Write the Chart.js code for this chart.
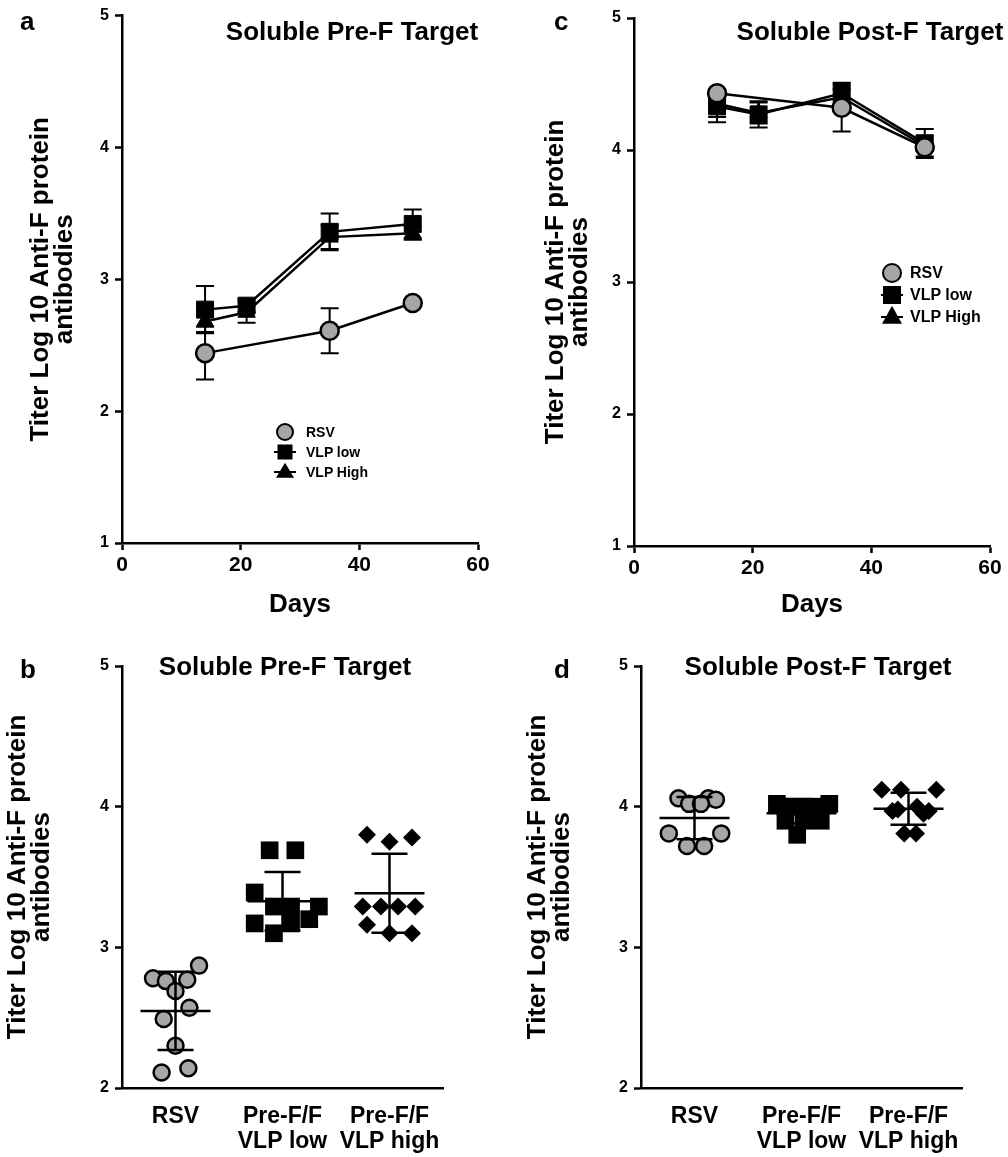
<!DOCTYPE html>
<html><head><meta charset="utf-8">
<script src="https://cdn.jsdelivr.net/npm/chart.js@4/dist/chart.umd.min.js"></script>
<style>
html,body{margin:0;padding:0;background:#fff;}
body{width:1008px;height:1157px;position:relative;overflow:hidden;font-family:"Liberation Sans",Arial,sans-serif;font-weight:bold;color:#000;}
canvas.panel{position:absolute;}
.letter{position:absolute;font-size:26px;line-height:1;}
.title{position:absolute;font-size:26px;line-height:1;white-space:nowrap;transform:translate(-50%,-50%);}
.lrow{position:absolute;display:flex;align-items:center;white-space:nowrap;}
.mk{position:relative;display:inline-block;width:24px;height:100%;}
.mk.s::before,.mk.t::before{content:'';position:absolute;left:1px;right:1px;top:50%;height:2px;margin-top:-1px;background:#000;}
.mk i{position:absolute;left:50%;top:50%;transform:translate(-50%,-50%);box-sizing:border-box;}
.mk.c i{width:var(--d);height:var(--d);border:2.5px solid #000;border-radius:50%;background:#a6a6a6;}
.mk.s i{width:var(--s);height:var(--s);background:#000;}
.mk.t i{width:0;height:0;border-left:calc(var(--s)*0.6) solid transparent;border-right:calc(var(--s)*0.6) solid transparent;border-bottom:var(--s) solid #000;transform:translate(-50%,-62%);}
</style>
</head>
<body>
<canvas id="ca" class="panel"></canvas>
<canvas id="cc" class="panel"></canvas>
<canvas id="cb" class="panel"></canvas>
<canvas id="cd" class="panel"></canvas>
<div class="letter" style="left:20px;top:8px;">a</div>
<div class="letter" style="left:554px;top:8px;">c</div>
<div class="letter" style="left:20px;top:656px;">b</div>
<div class="letter" style="left:554px;top:656px;">d</div>
<div class="title" style="left:352px;top:31px;">Soluble Pre-F Target</div>
<div class="title" style="left:870px;top:31px;">Soluble Post-F Target</div>
<div class="title" style="left:285px;top:666px;">Soluble Pre-F Target</div>
<div class="title" style="left:818px;top:666px;">Soluble Post-F Target</div>
<div id="lega"></div>
<div id="legc"></div>
<script>
// ---------- data ----------
const days = [14, 21, 35, 49];
const seriesNames = ['RSV', 'VLP low', 'VLP High'];
const yAxisTitle = ['Titer Log 10 Anti-F protein', 'antibodies'];
const groupLabels = ['RSV', ['Pre-F/F', 'VLP low'], ['Pre-F/F', 'VLP high']];

// panel a: soluble Pre-F target, time course (mean, SD)
const preF_RSV = [2.44, null, 2.61, 2.82];
const preF_RSV_sd = [0.20, null, 0.17, 0.02];
const preF_VLPlow = [2.77, 2.80, 3.36, 3.42];
const preF_VLPlow_sd = [0.18, 0.05, 0.14, 0.11];
const preF_VLPhigh = [2.68, 2.75, 3.32, 3.35];
const preF_VLPhigh_sd = [0.08, 0.08, 0.09, 0.05];

// panel c: soluble Post-F target, time course (mean, SD)
const postF_RSV = [4.43, null, 4.32, 4.02];
const postF_RSV_sd = [0.03, null, 0.18, 0.02];
const postF_VLPlow = [4.33, 4.27, 4.43, 4.05];
const postF_VLPlow_sd = [0.12, 0.10, 0.08, 0.11];
const postF_VLPhigh = [4.35, 4.28, 4.40, 4.03];
const postF_VLPhigh_sd = [0.10, 0.08, 0.06, 0.08];

// panel b: individual titers, soluble Pre-F target
const preF_ind_RSV = [2.78, 2.76, 2.77, 2.87, 2.69, 2.57, 2.49, 2.30, 2.11, 2.14];
const preF_ind_RSV_spread = [-0.21, -0.09, 0.11, 0.22, 0, 0.13, -0.11, 0, -0.13, 0.12];
const preF_ind_low = [3.69, 3.69, 3.39, 3.29, 3.29, 3.29, 3.20, 3.17, 3.10, 3.17];
const preF_ind_low_spread = [-0.12, 0.12, -0.26, -0.08, 0.08, 0.34, 0.25, -0.26, -0.08, 0.08];
const preF_ind_high = [3.80, 3.75, 3.78, 3.29, 3.29, 3.29, 3.29, 3.16, 3.10, 3.10];
const preF_ind_high_spread = [-0.21, 0, 0.21, -0.25, -0.08, 0.08, 0.24, -0.21, 0, 0.21];

// panel d: individual titers, soluble Post-F target
const postF_ind_RSV = [4.06, 4.06, 4.05, 4.02, 4.02, 3.81, 3.81, 3.72, 3.72];
const postF_ind_RSV_spread = [-0.15, 0.13, 0.20, -0.05, 0.06, -0.24, 0.25, -0.07, 0.09];
const postF_ind_low = [4.02, 4.00, 4.00, 4.02, 4.00, 4.00, 3.90, 3.90, 3.90, 3.80];
const postF_ind_low_spread = [-0.23, -0.07, 0.10, 0.26, -0.15, 0.02, -0.15, 0.02, 0.18, -0.04];
const postF_ind_high = [4.12, 4.12, 4.12, 3.97, 3.98, 4.00, 3.95, 3.97, 3.81, 3.81];
const postF_ind_high_spread = [-0.25, -0.07, 0.26, -0.15, -0.10, 0.08, 0.14, 0.19, -0.04, 0.07];

// ---------- styling ----------
Chart.defaults.font.family = '"Liberation Sans", Arial, sans-serif';
Chart.defaults.font.weight = 'bold';
Chart.defaults.color = '#000';
const GRAY = '#a6a6a6';

const lineErrorBars = {
  id: 'lineErrorBars',
  beforeDatasetsDraw(chart) {
    const ctx = chart.ctx, ys = chart.scales.y;
    ctx.save(); ctx.strokeStyle = '#000'; ctx.lineWidth = 2;
    chart.data.datasets.forEach((ds, di) => {
      if (!ds.sd) return;
      const meta = chart.getDatasetMeta(di);
      meta.data.forEach((pt, i) => {
        const v = ds.data[i].y, e = ds.sd[i];
        if (v == null || e == null) return;
        const x = pt.x, y1 = ys.getPixelForValue(v + e), y2 = ys.getPixelForValue(v - e);
        ctx.beginPath();
        ctx.moveTo(x, y1); ctx.lineTo(x, y2);
        ctx.moveTo(x - 9, y1); ctx.lineTo(x + 9, y1);
        ctx.moveTo(x - 9, y2); ctx.lineTo(x + 9, y2);
        ctx.stroke();
      });
    });
    ctx.restore();
  }
};

const meanSdBars = {
  id: 'meanSdBars',
  afterDatasetsDraw(chart) {
    const ctx = chart.ctx, xs = chart.scales.x, ys = chart.scales.y;
    ctx.save(); ctx.strokeStyle = '#000'; ctx.lineWidth = 2.5;
    chart.data.datasets.forEach((ds) => {
      const vals = ds.data.map(p => p.y);
      const n = vals.length;
      const mean = vals.reduce((a, b) => a + b, 0) / n;
      const sd = Math.sqrt(vals.reduce((a, b) => a + (b - mean) * (b - mean), 0) / (n - 1));
      const xc = xs.getPixelForValue(ds.group);
      const ym = ys.getPixelForValue(mean), yt = ys.getPixelForValue(mean + sd), yb = ys.getPixelForValue(mean - sd);
      ctx.beginPath();
      ctx.moveTo(xc - 35, ym); ctx.lineTo(xc + 35, ym);
      ctx.moveTo(xc, yt); ctx.lineTo(xc, yb);
      ctx.moveTo(xc - 18, yt); ctx.lineTo(xc + 18, yt);
      ctx.moveTo(xc - 18, yb); ctx.lineTo(xc + 18, yb);
      ctx.stroke();
    });
    ctx.restore();
  }
};

function place(id, left, top, w, h) {
  const c = document.getElementById(id);
  c.width = w; c.height = h;
  c.style.left = left + 'px'; c.style.top = top + 'px';
  c.style.width = w + 'px'; c.style.height = h + 'px';
  return c;
}

const axisBorder = { display: true, color: '#000', width: 2.5 };
const tickGrid = { display: true, drawOnChartArea: false, drawTicks: true, tickLength: 7, tickWidth: 2.5, tickColor: '#000' };

function yScale(min, max, width, titlePad) {
  return {
    min, max,
    ticks: { stepSize: 1, font: { size: 16, weight: 'bold' }, color: '#000', padding: 6 },
    grid: tickGrid, border: axisBorder,
    title: { display: true, text: yAxisTitle, color: '#000', font: { size: 26, weight: 'bold', lineHeight: 0.95 }, padding: { top: titlePad, bottom: 0 } },
    afterFit(s) { s.width = width; }
  };
}

function timeCourse(id, left, W, H, padTop, yW, padRight, xBottom, rsv, rsvSd, low, lowSd, high, highSd, titlePad) {
  const c = place(id, left, 0, W, H);
  const pts = arr => days.map((d, i) => ({ x: d, y: arr[i] }));
  return new Chart(c, {
    type: 'line',
    data: {
      datasets: [
        { label: seriesNames[0], data: pts(rsv), sd: rsvSd, spanGaps: true, borderColor: '#000', borderWidth: 2.5,
          pointStyle: 'circle', pointRadius: 9, pointBackgroundColor: GRAY, pointBorderColor: '#000', pointBorderWidth: 2.5 },
        { label: seriesNames[1], data: pts(low), sd: lowSd, spanGaps: true, borderColor: '#000', borderWidth: 2.5,
          pointStyle: 'rect', pointRadius: 12, pointBackgroundColor: '#000', pointBorderColor: '#000', pointBorderWidth: 1 },
        { label: seriesNames[2], data: pts(high), sd: highSd, spanGaps: true, borderColor: '#000', borderWidth: 2.5,
          pointStyle: 'triangle', pointRadius: 10, pointBackgroundColor: '#000', pointBorderColor: '#000', pointBorderWidth: 1 }
      ]
    },
    options: {
      responsive: false, animation: false, events: [],
      layout: { padding: { top: padTop, right: padRight, left: 0, bottom: 0 } },
      plugins: { legend: { display: false }, tooltip: { enabled: false } },
      scales: {
        x: {
          type: 'linear', min: 0, max: 60,
          ticks: { stepSize: 20, font: { size: 21, weight: 'bold' }, color: '#000', padding: 3 },
          grid: tickGrid, border: axisBorder,
          title: { display: true, text: 'Days', color: '#000', font: { size: 26, weight: 'bold', lineHeight: 1.2 }, padding: { top: 0, bottom: 0 } },
          afterFit(s) { s.height = H - xBottom; }
        },
        y: yScale(1, 5, yW, titlePad)
      }
    },
    plugins: [lineErrorBars]
  });
}

function individuals(id, left, top, W, H, padTop, yW, padRight, xBottom, sets, titlePad) {
  const c = place(id, left, top, W, H);
  const styles = [
    { pointStyle: 'circle', pointRadius: 8, pointBackgroundColor: GRAY, pointBorderColor: '#000', pointBorderWidth: 2.5 },
    { pointStyle: 'rect', pointRadius: 12.5, pointBackgroundColor: '#000', pointBorderColor: '#000', pointBorderWidth: 0 },
    { pointStyle: 'rectRot', pointRadius: 9, pointBackgroundColor: '#000', pointBorderColor: '#000', pointBorderWidth: 0 }
  ];
  return new Chart(c, {
    type: 'scatter',
    data: {
      datasets: sets.map((s, g) => Object.assign({
        group: g,
        data: s.vals.map((v, i) => ({ x: g + s.spread[i], y: v })),
        showLine: false
      }, styles[g]))
    },
    options: {
      responsive: false, animation: false, events: [],
      layout: { padding: { top: padTop, right: padRight, left: 0, bottom: 0 } },
      plugins: { legend: { display: false }, tooltip: { enabled: false } },
      scales: {
        x: {
          type: 'linear', min: -0.5, max: 2.5,
          afterBuildTicks(s) { s.ticks = groupLabels.map((_, i) => ({ value: i })); },
          ticks: { autoSkip: false, maxRotation: 0, font: { size: 23, weight: 'bold', lineHeight: 1.1 }, color: '#000', padding: 8,
                   callback: v => groupLabels[v] },
          grid: { display: false }, border: axisBorder,
          afterFit(s) { s.height = H - xBottom; }
        },
        y: yScale(2, 5, yW, titlePad)
      }
    },
    plugins: [meanSdBars]
  });
}

// panel a
timeCourse('ca', 0, 500, 620, 15, 122, 22, 543, preF_RSV, preF_RSV_sd, preF_VLPlow, preF_VLPlow_sd, preF_VLPhigh, preF_VLPhigh_sd, 28);
// panel c
timeCourse('cc', 510, 498, 620, 18, 124, 18, 546, postF_RSV, postF_RSV_sd, postF_VLPlow, postF_VLPlow_sd, postF_VLPhigh, postF_VLPhigh_sd, 33);
// panel b
individuals('cb', 0, 630, 500, 527, 36, 122, 57, 458, [
  { vals: preF_ind_RSV, spread: preF_ind_RSV_spread },
  { vals: preF_ind_low, spread: preF_ind_low_spread },
  { vals: preF_ind_high, spread: preF_ind_high_spread }
], 5);
// panel d
individuals('cd', 510, 630, 498, 527, 36, 131, 46, 458, [
  { vals: postF_ind_RSV, spread: postF_ind_RSV_spread },
  { vals: postF_ind_low, spread: postF_ind_low_spread },
  { vals: postF_ind_high, spread: postF_ind_high_spread }
], 15);

// legends
function legend(hostId, left, cy, gap, font, d, s, gapText) {
  const host = document.getElementById(hostId);
  const kinds = ['c', 's', 't'];
  seriesNames.forEach((n, i) => {
    const row = document.createElement('div');
    row.className = 'lrow';
    row.style.left = left + 'px';
    row.style.top = (cy + i * gap - gap / 2) + 'px';
    row.style.height = gap + 'px';
    row.style.fontSize = font + 'px';
    row.style.setProperty('--d', d + 'px');
    row.style.setProperty('--s', s + 'px');
    const mk = document.createElement('span');
    mk.className = 'mk ' + kinds[i];
    mk.style.marginRight = gapText + 'px';
    mk.appendChild(document.createElement('i'));
    const t = document.createElement('span');
    t.textContent = n;
    row.appendChild(mk); row.appendChild(t);
    host.appendChild(row);
  });
}
legend('lega', 273, 432, 20, 14, 18, 15, 9);
legend('legc', 880, 273, 22, 16, 20, 18, 6);
</script>
</body></html>
